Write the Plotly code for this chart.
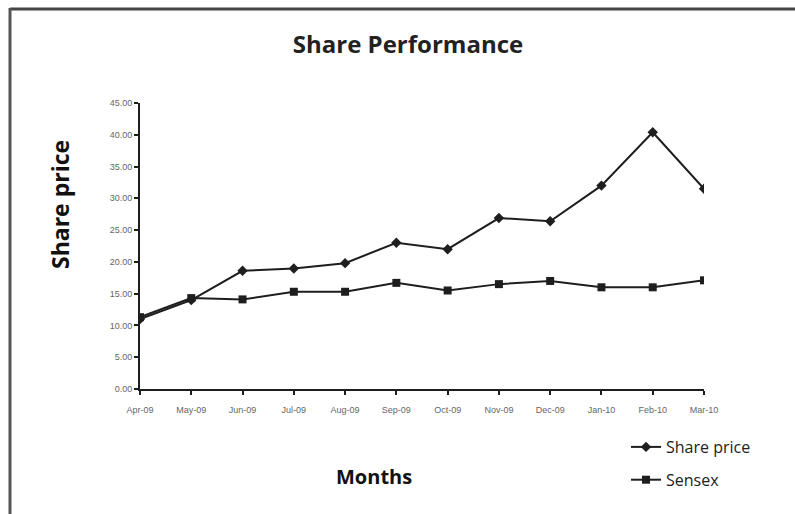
import plotly.graph_objects as go

months = ["Apr-09", "May-09", "Jun-09", "Jul-09", "Aug-09", "Sep-09",
          "Oct-09", "Nov-09", "Dec-09", "Jan-10", "Feb-10", "Mar-10"]
share_price = [11.0, 14.0, 18.6, 18.95, 19.8, 23.0, 22.0, 26.9, 26.4, 32.0, 40.4, 31.5]
sensex = [11.3, 14.3, 14.1, 15.3, 15.3, 16.7, 15.5, 16.5, 17.0, 16.0, 16.0, 17.1]
y_ticks = [0, 5, 10, 15, 20, 25, 30, 35, 40, 45]

W, H = 795, 514
L, R, T, B = 140, 91, 103, 125
pw, ph = W - L - R, H - T - B

def px_x(x):
    return (x - L) / pw

def px_y(y):
    return (H - B - y) / ph

fig = go.Figure()
fig.add_trace(go.Scatter(
    x=months, y=share_price, name="Share price", mode="lines+markers",
    line=dict(color="#1e1e1e", width=2),
    marker=dict(symbol="diamond", size=8, color="#1e1e1e"),
    legendgroup="a",
))
fig.add_trace(go.Scatter(
    x=months, y=sensex, name="Sensex", mode="lines+markers",
    line=dict(color="#1e1e1e", width=2),
    marker=dict(symbol="square", size=8, color="#1e1e1e"),
    legendgroup="b",
))

tick_font = dict(family="Liberation Sans Narrow, Arial Narrow, sans-serif", size=9, color="#666")

fig.update_layout(
    width=W, height=H,
    margin=dict(l=L, r=R, t=T, b=B),
    paper_bgcolor="white", plot_bgcolor="white",
    title=dict(text="<b>Share Performance</b>", xref="container", x=408 / W, xanchor="center",
               yref="container", y=1 - 45 / H, yanchor="middle",
               font=dict(family="Open Sans, sans-serif", size=24, color="#222")),
    xaxis=dict(
        type="category", range=[0, len(months) - 1],
        showline=True, linecolor="#1e1e1e", linewidth=2,
        ticks="outside", ticklen=4, tickcolor="#1e1e1e", tickwidth=1.5,
        showgrid=False, zeroline=False, tickangle=0, tickfont=tick_font,
        ticklabelstandoff=7,
    ),
    yaxis=dict(
        range=[0, 45], tickvals=y_ticks,
        ticktext=[f"{v:.2f}" for v in y_ticks],
        showline=True, linecolor="#1e1e1e", linewidth=2,
        ticks="outside", ticklen=4, tickcolor="#1e1e1e", tickwidth=1.5,
        showgrid=False, zeroline=False, tickfont=tick_font,
    ),
    legend=dict(
        x=px_x(626), y=px_y(430), xanchor="left", yanchor="top",
        font=dict(family="Open Sans, sans-serif", size=16, color="#222"),
        traceorder="grouped", tracegroupgap=9, itemwidth=30,
        bgcolor="rgba(0,0,0,0)",
    ),
    showlegend=True,
    annotations=[
        dict(text="<b>Share price</b>", xref="paper", yref="paper",
             x=px_x(60), y=px_y(205), xanchor="center", yanchor="middle",
             textangle=-90, showarrow=False,
             font=dict(family="Open Sans, sans-serif", size=23, color="#111")),
        dict(text="<b>Months</b>", xref="paper", yref="paper",
             x=px_x(374), y=px_y(476), xanchor="center", yanchor="middle",
             showarrow=False,
             font=dict(family="Open Sans, sans-serif", size=20, color="#111")),
    ],
    shapes=[
        dict(type="line", xref="paper", yref="paper",
             x0=px_x(10), y0=px_y(9), x1=px_x(W + 2), y1=px_y(9),
             line=dict(color="#444", width=3)),
        dict(type="line", xref="paper", yref="paper",
             x0=px_x(10), y0=px_y(8), x1=px_x(10), y1=px_y(H + 2),
             line=dict(color="#555", width=3)),
    ],
)

fig.write_html("out.html")
